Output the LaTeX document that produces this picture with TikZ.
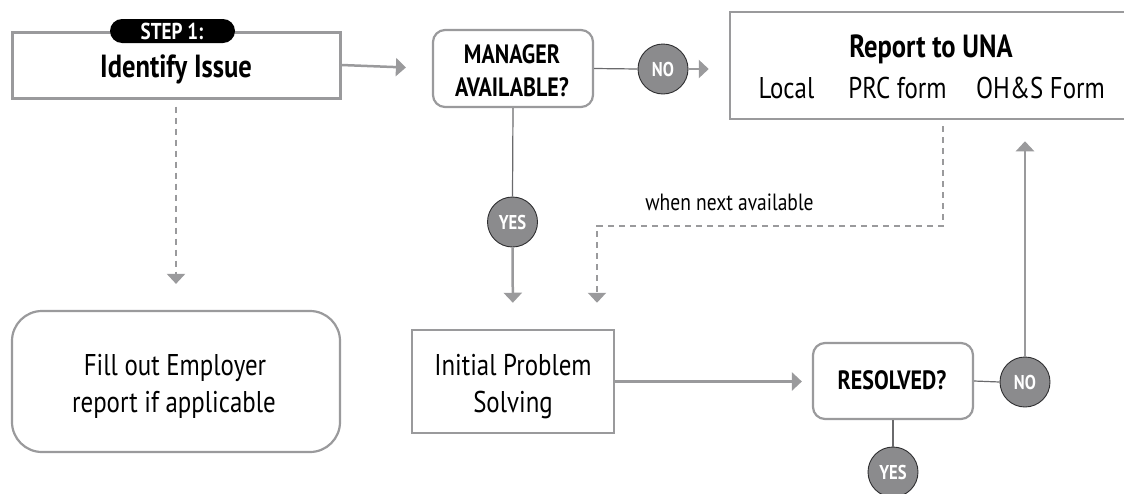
\documentclass[tikz,border=0pt]{standalone}
\usepackage{fontspec}
\setmainfont{PT Sans}[FakeStretch=0.83]
\usetikzlibrary{arrows.meta,calc}
\definecolor{boxgray}{HTML}{9A9A9C}
\definecolor{circfill}{HTML}{8B8B8D}
\definecolor{thinline}{HTML}{6A6A6C}
\definecolor{circline}{HTML}{2E2E30}
\tikzset{
  sqbox/.style={draw=boxgray, fill=white, line width=2.5pt, inner sep=0pt},
  rbox/.style={draw=boxgray, fill=white, line width=2.2pt, inner sep=0pt, rounded corners=12pt},
  pill/.style={fill=black, inner sep=0pt, rounded corners=12pt},
  yn/.style={circle, draw=circline, line width=0.9pt, fill=circfill, minimum size=50pt, inner sep=0pt,
             text=white, font=\fontsize{20}{24}\selectfont\bfseries},
  txt/.style={anchor=base, inner sep=0pt, font=\fontsize{30}{37}\selectfont},
  bigb/.style={anchor=base, inner sep=0pt, font=\fontsize{32}{38}\selectfont\bfseries},
  decb/.style={anchor=base, inner sep=0pt, font=\fontsize{26.5}{30}\selectfont\bfseries},
  arr/.style={draw=boxgray, line width=2.5pt, -{Triangle[length=10pt,width=18pt]}},
  darr/.style={draw=boxgray, line width=2.2pt, dash pattern=on 6pt off 5pt, -{Triangle[length=10pt,width=18pt]}},
  thin/.style={draw=thinline, line width=1.2pt},
}
\begin{document}
\begin{tikzpicture}[x=1pt,y=-1pt]
\useasboundingbox (0,0) rectangle (1124,493);
\clip (0,0) rectangle (1124,493);

% boxes
\node[sqbox, line width=3pt, minimum width=328pt, minimum height=66pt] (identify) at (176,65) {};
\node[pill, minimum width=125pt, minimum height=24pt] (step) at (172.5,31) {};
\node[anchor=base, inner sep=0pt, text=white, font=\fontsize{23}{26}\selectfont\bfseries] (steptxt) at (172,39.5) {STEP 1:};
\node[bigb] (identtxt) at (176,77) {Identify Issue};

\node[rbox, minimum width=160pt, minimum height=77pt] (manager) at (513,68.5) {};
\node[decb] (mgr1) at (512,63) {MANAGER};
\node[decb] (mgr2) at (512,96) {AVAILABLE?};

\node[sqbox, minimum width=400pt, minimum height=107pt] (report) at (930,65.5) {};
\node[bigb] (reptxt) at (931,57) {Report to UNA};
\node[txt] (local) at (786.5,98) {Local};
\node[txt] (prc) at (897.5,98) {PRC form};
\node[txt] (ohs) at (1040.5,98) {OH\&S Form};

\node[rbox, rounded corners=30pt, minimum width=328pt, minimum height=141pt] (fill) at (176,381.5) {};
\node[txt] (fill1) at (175,375) {Fill out Employer};
\node[txt] (fill2) at (174,412) {report if applicable};

\node[sqbox, minimum width=202pt, minimum height=103pt] (initial) at (513,381.5) {};
\node[txt] (ini1) at (513,375) {Initial Problem};
\node[txt] (ini2) at (513,412) {Solving};

\node[rbox, minimum width=160pt, minimum height=76pt] (resolved) at (893,381) {};
\node[decb] (restxt) at (892,389) {RESOLVED?};

\node[anchor=base, inner sep=0pt, font=\fontsize{23.5}{28}\selectfont] (when) at (729.5,210) {when next available};

% yes/no circles
\node[yn] (no1) at (663,69) {NO};
\node[yn] (yes1) at (512.5,222) {YES};
\node[yn] (no2) at (1025,382) {NO};
\node[yn] (yes2) at (893,472) {YES};

% connectors
\coordinate (wn1) at (943,226);
\coordinate (wn2) at (597,226);
\draw[arr, shorten >=26pt] (identify.east) -- (manager.west);
\draw[thin] (manager.east) -- (no1.west);
\draw[arr, shorten >=20pt] (no1.east) -- (no1.east -| report.west);
\draw[thin] (manager.south) -- (yes1.north);
\draw[arr, shorten >=26pt] (yes1.south) -- (initial.north);
\draw[darr, shorten <=7pt, shorten >=26pt] (identify.south) -- (fill.north);
\draw[darr, shorten <=6pt, shorten >=26pt] (report.south -| wn1) -- (wn1) -- (wn2) -- (initial.north -| wn2);
\draw[arr, shorten >=10pt] (initial.east) -- (initial.east -| resolved.west);
\draw[thin] (resolved.east) -- (no2.west);
\draw[arr, shorten >=21pt] (no2.north) -- (no2.north |- report.south);
\draw[thin] (resolved.south) -- (yes2.north);
\end{tikzpicture}
\end{document}
